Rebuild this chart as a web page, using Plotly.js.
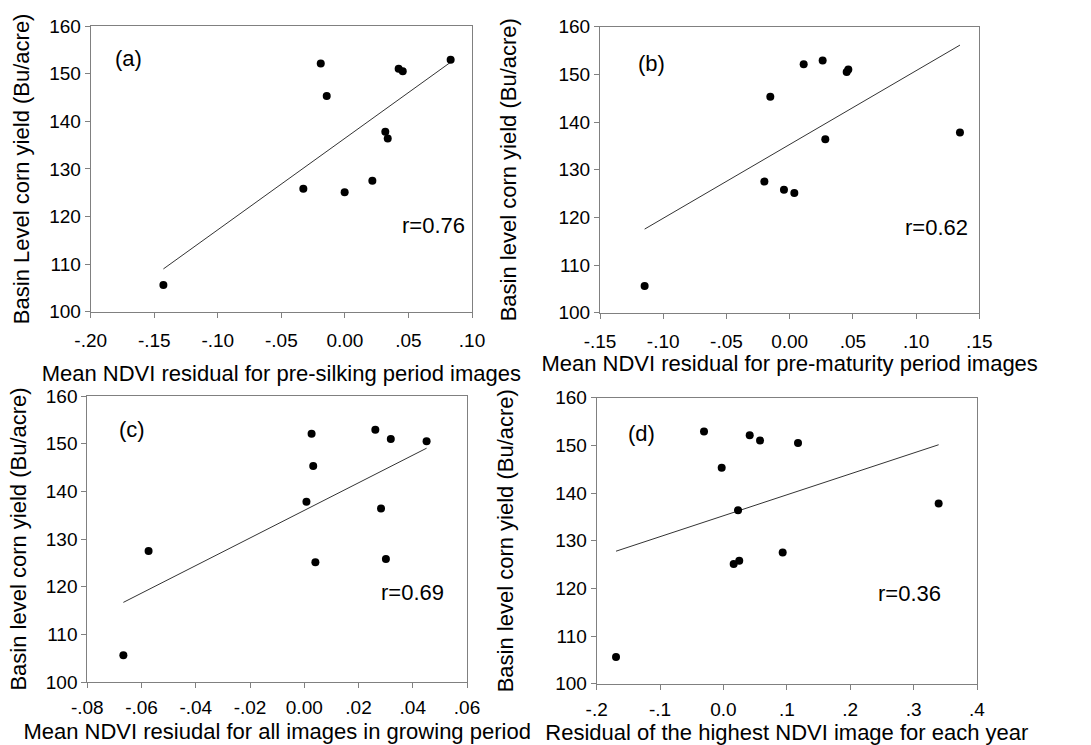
<!DOCTYPE html>
<html><head><meta charset="utf-8">
<script src="https://cdn.plot.ly/plotly-3.0.1.min.js"></script>
<style>html,body{margin:0;padding:0;background:#fff}#chart{width:1091px;height:745px}</style>
</head><body><div id="chart"></div>
<script>
// Basin level corn yield (Bu/acre), same 11 years in every panel
const yieldVals = [105.6, 152.1, 145.3, 125.8, 125.1, 127.5, 137.8, 136.4, 151.0, 150.5, 152.9];

// NDVI residuals per panel (same year order as yieldVals)
const xPreSilking  = [-0.1428, -0.0190, -0.0143, -0.0327, -0.0002, 0.0216, 0.0318, 0.0337, 0.0423, 0.0455, 0.0832];
const xPreMaturity = [-0.1147, 0.0111, -0.0153, -0.0045, 0.0037, -0.0200, 0.1347, 0.0282, 0.0464, 0.0451, 0.0261];
const xAllImages   = [-0.0667, 0.0027, 0.0033, 0.0301, 0.0041, -0.0574, 0.0008, 0.0283, 0.0319, 0.0451, 0.0262];
const xHighest     = [-0.1695, 0.0414, -0.0028, 0.0249, 0.0161, 0.0934, 0.3395, 0.0230, 0.0577, 0.1176, -0.0307];

const panelLabels = ['(a)', '(b)', '(c)', '(d)'];
const rLabels = ['r=0.76', 'r=0.62', 'r=0.69', 'r=0.36'];

const xTitles = [
  'Mean NDVI residual for pre-silking period images',
  'Mean NDVI residual for pre-maturity period images',
  'Mean NDVI resiudal for all images in growing period',
  'Residual of the highest NDVI image for each year'
];
const yTitles = [
  'Basin Level corn yield (Bu/acre)',
  'Basin level corn yield (Bu/acre)',
  'Basin level corn yield (Bu/acre)',
  'Basin level corn yield (Bu/acre)'
];

const xTickVals = [
  [-0.20, -0.15, -0.10, -0.05, 0.00, 0.05, 0.10],
  [-0.15, -0.10, -0.05, 0.00, 0.05, 0.10, 0.15],
  [-0.08, -0.06, -0.04, -0.02, 0.00, 0.02, 0.04, 0.06],
  [-0.2, -0.1, 0.0, 0.1, 0.2, 0.3, 0.4]
];
const xTickText = [
  ['-.20', '-.15', '-.10', '-.05', '0.00', '.05', '.10'],
  ['-.15', '-.10', '-.05', '0.00', '.05', '.10', '.15'],
  ['-.08', '-.06', '-.04', '-.02', '0.00', '.02', '.04', '.06'],
  ['-.2', '-.1', '0.0', '.1', '.2', '.3', '.4']
];
const yTickVals = [100, 110, 120, 130, 140, 150, 160];

const xSeries = [xPreSilking, xPreMaturity, xAllImages, xHighest];

// ---- layout geometry (pixels in a 1091x745 page) ----
const W = 1091, H = 745;
const boxes = [
  {x0: 90.7, x1: 472.0, y0: 26.0, y1: 311.7, ytStand: 13, xtStand: 16, tlStand: 6, lab: [128, 58], r: [433, 225]},
  {x0: 600.0, x1: 979.3, y0: 26.7, y1: 312.7, ytStand: 35, xtStand: 4, tlStand: 6, lab: [651, 63], r: [936, 227]},
  {x0: 87.3, x1: 467.0, y0: 396.0, y1: 682.0, ytStand: 13, xtStand: 6, tlStand: 3, lab: [132, 429], r: [412, 592]},
  {x0: 596.7, x1: 977.0, y0: 397.7, y1: 683.7, ytStand: 35, xtStand: 6, tlStand: 3, lab: [641, 434], r: [909, 593]}
];
const font = 'Liberation Sans, Arial, Helvetica, sans-serif';

function fit(xs, ys) {
  const n = xs.length;
  const mx = xs.reduce((a, b) => a + b, 0) / n;
  const my = ys.reduce((a, b) => a + b, 0) / n;
  let sxy = 0, sxx = 0;
  for (let i = 0; i < n; i++) { sxy += (xs[i] - mx) * (ys[i] - my); sxx += (xs[i] - mx) ** 2; }
  const b = sxy / sxx, a = my - b * mx;
  const lo = Math.min(...xs), hi = Math.max(...xs);
  return {x: [lo, hi], y: [a + b * lo, a + b * hi]};
}

const data = [];
const layout = {
  width: W, height: H,
  margin: {l: 0, r: 0, t: 0, b: 0},
  paper_bgcolor: '#fff', plot_bgcolor: '#fff',
  showlegend: false,
  font: {family: font, color: '#000'},
  annotations: []
};

boxes.forEach((bx, i) => {
  const k = i === 0 ? '' : String(i + 1);
  const xa = 'x' + k, ya = 'y' + k;
  const f = fit(xSeries[i], yieldVals);
  data.push({x: f.x, y: f.y, xaxis: xa, yaxis: ya, type: 'scatter', mode: 'lines',
             line: {color: '#333', width: 1}, hoverinfo: 'skip'});
  data.push({x: xSeries[i], y: yieldVals, xaxis: xa, yaxis: ya, type: 'scatter', mode: 'markers',
             marker: {color: '#000', size: 8}});
  const tv = xTickVals[i];
  layout['xaxis' + k] = {
    domain: [bx.x0 / W, bx.x1 / W], anchor: ya,
    range: [tv[0], tv[tv.length - 1]],
    tickmode: 'array', tickvals: tv, ticktext: xTickText[i],
    ticks: 'outside', ticklen: 5, tickcolor: '#808080', tickwidth: 1,
    showline: true, linecolor: '#808080', linewidth: 1, mirror: true,
    showgrid: false, zeroline: false,
    tickfont: {size: 19, family: font, color: '#000'},
    ticklabelstandoff: bx.tlStand,
    title: {text: xTitles[i], font: {size: 22, family: font, color: '#000'}, standoff: bx.xtStand}
  };
  layout['yaxis' + k] = {
    domain: [1 - bx.y1 / H, 1 - bx.y0 / H], anchor: xa,
    range: [100, 160],
    tickmode: 'array', tickvals: yTickVals,
    ticks: 'outside', ticklen: 5, tickcolor: '#808080', tickwidth: 1,
    showline: true, linecolor: '#808080', linewidth: 1, mirror: true,
    showgrid: false, zeroline: false,
    tickfont: {size: 19, family: font, color: '#000'},
    title: {text: yTitles[i], font: {size: 22, family: font, color: '#000'}, standoff: bx.ytStand}
  };
  layout.annotations.push({xref: 'paper', yref: 'paper', x: bx.lab[0] / W, y: 1 - bx.lab[1] / H,
    text: panelLabels[i], showarrow: false, xanchor: 'center', yanchor: 'middle',
    font: {size: 22, family: font, color: '#000'}});
  layout.annotations.push({xref: 'paper', yref: 'paper', x: bx.r[0] / W, y: 1 - bx.r[1] / H,
    text: rLabels[i], showarrow: false, xanchor: 'center', yanchor: 'middle',
    font: {size: 22, family: font, color: '#000'}});
});

Plotly.newPlot('chart', data, layout, {displayModeBar: false, staticPlot: true});
</script>
</body></html>
